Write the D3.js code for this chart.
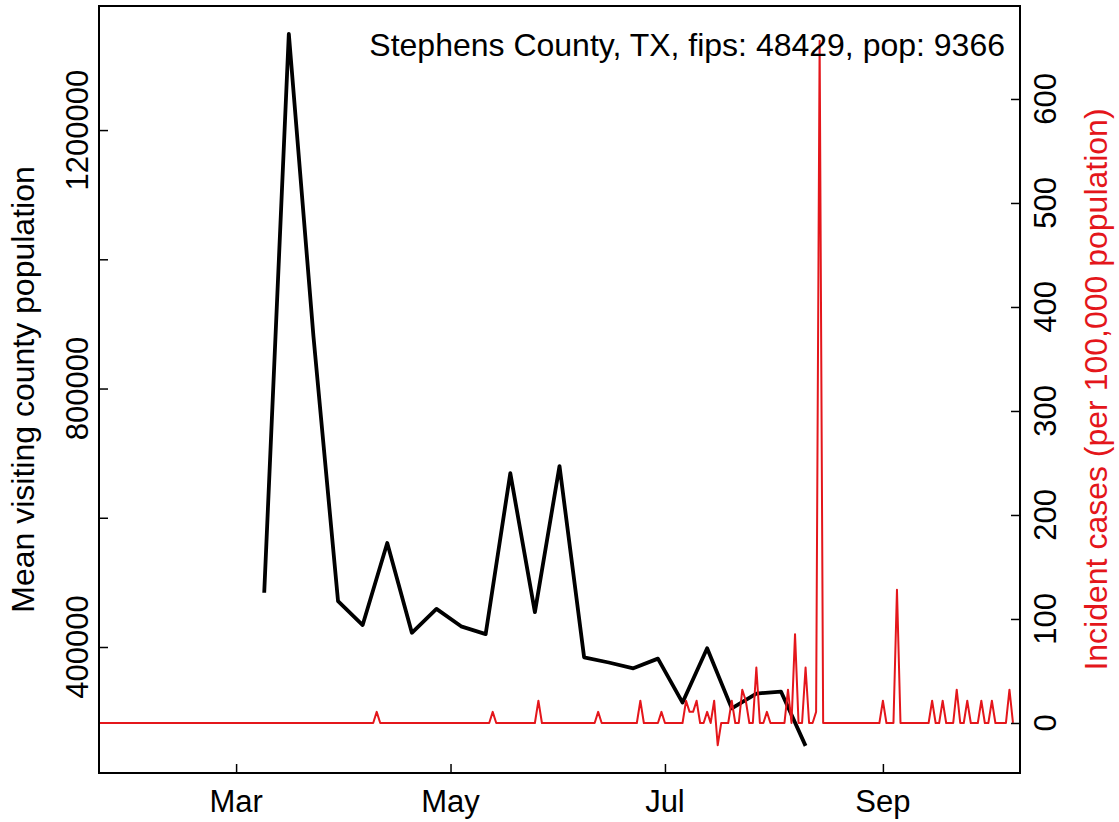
<!DOCTYPE html>
<html lang="en">
<head>
    <meta charset="UTF-8">
    <title>Stephens County, TX</title>
    <script src="https://d3js.org/d3.v7.min.js"></script>
    <style>
        body { margin: 0; background: #fff; }
        svg { display: block; font-family: "Liberation Sans", Arial, sans-serif; }
        .tick-label { font-size: 31px; }
        .title-label { font-size: 32px; }
    </style>
</head>
<body>
    <div id="chart"></div>

    <script>
        // weekly mean visiting county population (black line)
        const weekDates = ["2020-03-09", "2020-03-16", "2020-03-23", "2020-03-30", "2020-04-06", "2020-04-13",
            "2020-04-20", "2020-04-27", "2020-05-04", "2020-05-11", "2020-05-18", "2020-05-25", "2020-06-01",
            "2020-06-08", "2020-06-15", "2020-06-22", "2020-06-29", "2020-07-06", "2020-07-13", "2020-07-20",
            "2020-07-27", "2020-08-03", "2020-08-10"];
        const visitors = [484000, 1349000, 881000, 471000, 434000, 561000,
            422000, 459000, 432000, 420000, 669000, 454000, 680000,
            384000, 376000, 367000, 382000, 314000, 398000, 305000,
            328000, 331000, 247000];

        // daily incident cases per 100,000 (red line), first day 2020-01-22
        const casesStart = "2020-01-22";
        const casesJan = [0,0,0,0,0,0,0,0,0,0];
        const casesFeb = [0,0,0,0,0,0,0,0,0,0, 0,0,0,0,0,0,0,0,0,0, 0,0,0,0,0,0,0,0,0];
        const casesMar = [0,0,0,0,0,0,0,0,0,0, 0,0,0,0,0,0,0,0,0,0, 0,0,0,0,0,0,0,0,0,0, 0];
        const casesApr = [0,0,0,0,0,0,0,0,0,10.7, 0,0,0,0,0,0,0,0,0,0, 0,0,0,0,0,0,0,0,0,0];
        const casesMay = [0,0,0,0,0,0,0,0,0,0, 0,0,10.7,0,0,0,0,0,0,0, 0,0,0,0,0,21.4,0,0,0,0, 0];
        const casesJun = [0,0,0,0,0,0,0,0,0,0, 0,10.7,0,0,0,0,0,0,0,0, 0,0,0,21.4,0,0,0,0,0,10.7];
        const casesJul = [0,0,0,0,0,0,21.4,10.7,10.7,21.4, 0,0,10.7,0,21.4,-21.4,0,0,0,21.4, 0,0,32.0,21.4,0,0,53.4,0,0,10.7, 0];
        const casesAug = [0,0,0,0,32.0,0,85.4,0,0,53.4, 0,0,10.7,656,0,0,0,0,0,0, 0,0,0,0,0,0,0,0,0,0, 0];
        const casesSep = [21.4,0,0,0,128.1,0,0,0,0,0, 0,0,0,0,21.4,0,0,21.4,0,0, 0,32.0,0,0,21.4,0,0,0,21.4,0];
        const casesOct = [0,21.4,0,0,0,0,32.0,0];

        const monthTicks = ["2020-03-01", "2020-05-01", "2020-07-01", "2020-09-01"];
        const monthLabels = ["Mar", "May", "Jul", "Sep"];
        const leftTicks = [400000, 600000, 800000, 1000000, 1200000];
        const leftLabels = ["400000", "", "800000", "", "1200000"];
        const rightTicks = [0, 100, 200, 300, 400, 500, 600];

        const title = "Stephens County, TX, fips: 48429, pop: 9366";
        const red = "#e4161b";

        const W = 1119, H = 822;
        const margin = {top: 6, right: 99, bottom: 49, left: 99};
        const width = W - margin.left - margin.right;
        const height = H - margin.top - margin.bottom;
        const parse = d3.utcParse("%Y-%m-%d");

        const svg = d3.select("#chart").append("svg")
            .attr("width", W)
            .attr("height", H);
        const g = svg.append("g")
            .attr("transform", "translate(" + margin.left + "," + margin.top + ")");

        const x = d3.scaleUtc()
            .domain([parse("2020-01-22"), parse("2020-10-10")])
            .range([0, width]);
        const yL = d3.scaleLinear().domain([205000, 1392000]).range([height, 0]);
        const yR = d3.scaleLinear().domain([-48.1, 689.4]).range([height, 0]);

        const visitData = weekDates.map((d, i) => ({date: parse(d), v: visitors[i]}));
        const allCases = [].concat(casesJan, casesFeb, casesMar, casesApr, casesMay,
            casesJun, casesJul, casesAug, casesSep, casesOct);
        const day0 = parse(casesStart);
        const caseData = allCases.map((v, i) => ({date: d3.utcDay.offset(day0, i), v: v}));

        // black line
        g.append("path")
            .datum(visitData)
            .attr("fill", "none")
            .attr("stroke", "#000")
            .attr("stroke-width", 3.8)
            .attr("stroke-linejoin", "round")
            .attr("d", d3.line().x(d => x(d.date)).y(d => yL(d.v)));

        // red line
        g.append("path")
            .datum(caseData)
            .attr("fill", "none")
            .attr("stroke", red)
            .attr("stroke-width", 2)
            .attr("stroke-linejoin", "round")
            .attr("d", d3.line().x(d => x(d.date)).y(d => yR(d.v)));

        // box
        g.append("rect")
            .attr("width", width)
            .attr("height", height)
            .attr("fill", "none")
            .attr("stroke", "#000")
            .attr("stroke-width", 2);

        // axes with inward ticks
        const axX = g.append("g")
            .attr("transform", "translate(0," + height + ")")
            .call(d3.axisBottom(x).tickValues(monthTicks.map(parse)).tickSize(-9).tickFormat(""));
        const axL = g.append("g")
            .call(d3.axisLeft(yL).tickValues(leftTicks).tickSize(-9).tickFormat(""));
        const axR = g.append("g")
            .attr("transform", "translate(" + width + ",0)")
            .call(d3.axisRight(yR).tickValues(rightTicks).tickSize(-9).tickFormat(""));
        [axX, axL, axR].forEach(a => {
            a.select(".domain").remove();
            a.selectAll(".tick line").attr("stroke", "#000").attr("stroke-width", 1.5);
        });

        // x labels
        g.selectAll(".xlab")
            .data(monthTicks)
            .enter().append("text")
            .attr("class", "tick-label")
            .attr("x", d => x(parse(d)))
            .attr("y", height + 39)
            .attr("text-anchor", "middle")
            .text((d, i) => monthLabels[i]);

        // left labels (rotated)
        g.selectAll(".ylab")
            .data(leftTicks)
            .enter().append("text")
            .attr("class", "tick-label")
            .attr("transform", d => "translate(-11," + yL(d) + ") rotate(-90)")
            .attr("text-anchor", "middle")
            .text((d, i) => leftLabels[i]);

        // right labels (rotated)
        g.selectAll(".rlab")
            .data(rightTicks)
            .enter().append("text")
            .attr("class", "tick-label")
            .attr("transform", d => "translate(" + (width + 36) + "," + yR(d) + ") rotate(-90)")
            .attr("text-anchor", "middle")
            .text(d => d);

        // axis titles
        svg.append("text")
            .attr("class", "title-label")
            .attr("transform", "translate(34," + (margin.top + height / 2) + ") rotate(-90)")
            .attr("text-anchor", "middle")
            .text("Mean visiting county population");

        svg.append("text")
            .attr("class", "title-label")
            .attr("fill", red)
            .attr("transform", "translate(1107," + (margin.top + height / 2) + ") rotate(-90)")
            .attr("text-anchor", "middle")
            .text("Incident cases (per 100,000 population)");

        // county label, top right
        svg.append("text")
            .attr("class", "title-label")
            .attr("x", 1005)
            .attr("y", 56)
            .attr("text-anchor", "end")
            .text(title);
    </script>
</body>
</html>
